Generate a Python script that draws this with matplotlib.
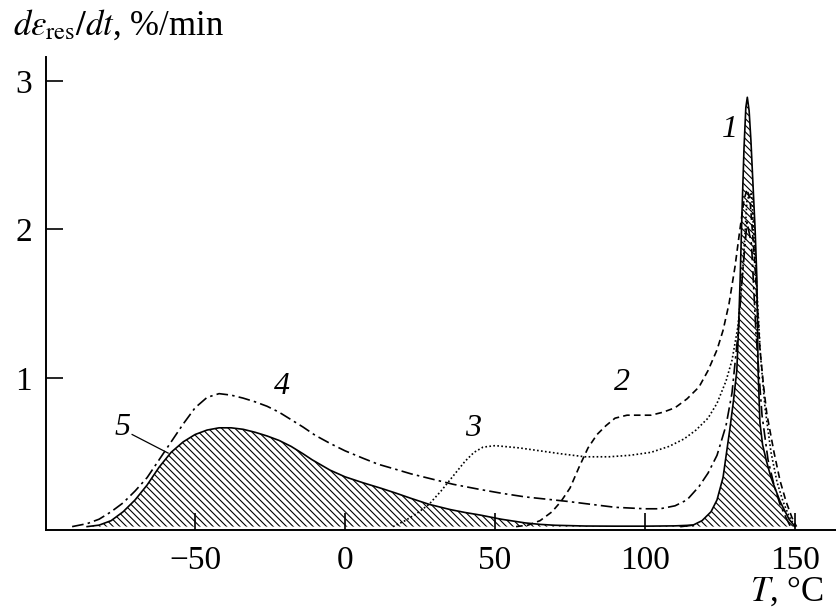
import matplotlib

matplotlib.use("Agg")
import matplotlib.pyplot as plt

plt.rcParams["font.family"] = ["Liberation Serif", "DejaVu Serif"]
plt.rcParams["mathtext.fontset"] = "stix"
plt.rcParams["hatch.linewidth"] = 0.8

# curve 1: narrow solid peak (hatched)
T1 = [112, 116, 119, 122, 124, 126, 128.3, 129.5, 130.6, 131.2, 131.7, 132.3, 133, 133.6, 134.1,
      134.7, 135.3, 136, 136.7, 137.3, 137.7, 138.3, 139.2, 140.5, 142, 143.5, 145, 146.5, 148, 149.2, 150]
v1 = [0, 0.01, 0.04, 0.1, 0.18, 0.33, 0.66, 0.85, 1.05, 1.35, 1.66, 2.1, 2.55, 2.82, 2.89,
      2.8, 2.6, 2.3, 2.0, 1.66, 1.05, 0.7, 0.55, 0.44, 0.33, 0.25, 0.17, 0.11, 0.05, 0.02, 0]

# curve 5: broad solid hump (hatched)
T5 = [-86, -82, -78, -74, -70, -66, -62, -58, -54, -50, -46, -42, -38, -34, -30, -26, -22, -18,
      -14, -11, -8, -5, 0, 6, 12, 17, 22, 28, 35, 40, 45, 52, 60, 65, 70, 80, 90, 100, 110, 116]
v5 = [0, 0.01, 0.04, 0.1, 0.18, 0.28, 0.4, 0.5, 0.57, 0.62, 0.65, 0.665, 0.665, 0.655, 0.635, 0.61,
      0.58, 0.54, 0.49, 0.45, 0.415, 0.38, 0.335, 0.295, 0.258, 0.225, 0.19, 0.15, 0.115, 0.095,
      0.078, 0.05, 0.025, 0.015, 0.009, 0.004, 0.003, 0.003, 0.005, 0.01]

# curve 2: dashed
T2 = [57, 61, 65, 69, 72, 75, 78, 81, 84, 87, 90, 94, 98, 102, 106, 110, 114, 118, 121, 124, 126,
      128, 130, 131.5, 133, 134, 135, 136.5, 138.3, 139.5, 140.6, 143, 145, 147, 149, 150.5]
v2 = [0, 0.01, 0.04, 0.1, 0.17, 0.26, 0.4, 0.53, 0.62, 0.68, 0.73, 0.75, 0.75, 0.75, 0.77, 0.8,
      0.86, 0.94, 1.05, 1.19, 1.32, 1.5, 1.75, 1.98, 2.2, 2.27, 2.2, 1.8, 1.2, 0.95, 0.76, 0.5,
      0.31, 0.17, 0.06, 0]

# curve 3: dotted
T3 = [16, 20, 24, 28, 32, 36, 40, 43, 46, 50, 58, 65, 72, 80, 88, 95, 102, 108, 113, 117, 121,
      124, 127, 129, 131, 132.5, 134, 135.5, 137, 138.5, 140, 142, 144, 146, 148, 150]
v3 = [0, 0.04, 0.09, 0.15, 0.24, 0.34, 0.44, 0.5, 0.535, 0.545, 0.53, 0.51, 0.49, 0.47, 0.47,
      0.48, 0.5, 0.54, 0.59, 0.65, 0.73, 0.83, 0.98, 1.12, 1.35, 1.7, 2.2, 2.25, 1.7, 1.15, 0.8,
      0.5, 0.3, 0.17, 0.07, 0]

# curve 4: dash-dot
T4 = [-91, -86, -82, -78, -74, -70, -66, -62, -58, -54, -50, -46, -42, -38, -34, -30, -26, -22,
      -18, -14, -10, -5, 0, 6, 11, 17, 22, 28, 36, 45, 52, 60, 74, 90, 100, 105, 110, 114, 118,
      121, 124, 127, 129, 131, 132.5, 134, 135.5, 137, 139, 141, 143, 145, 147, 148.5]
v4 = [0, 0.02, 0.05, 0.1, 0.16, 0.24, 0.33, 0.45, 0.57, 0.69, 0.8, 0.87, 0.895, 0.885, 0.865,
      0.84, 0.81, 0.77, 0.72, 0.67, 0.615, 0.56, 0.51, 0.46, 0.42, 0.385, 0.355, 0.325, 0.285,
      0.25, 0.225, 0.2, 0.17, 0.13, 0.12, 0.12, 0.14, 0.18, 0.27, 0.36, 0.48, 0.68, 0.9, 1.3,
      1.7, 2.05, 1.9, 1.3, 0.75, 0.45, 0.28, 0.15, 0.06, 0]

x_ticks = [-50, 0, 50, 100, 150]
y_ticks = [1, 2, 3]

fig = plt.figure(figsize=(8.37, 6.08), dpi=100)
ax = fig.add_axes([0.055, 0.128, 0.945, 0.778])

lw = 1.2
for T, v in [(T5, v5), (T1, v1)]:
    ax.fill_between(T, v, 0, facecolor="none", edgecolor="black", hatch="\\" * 5, linewidth=0)
    ax.plot(T, v, color="black", lw=lw, solid_joinstyle="round")
ax.plot(T2, v2, color="black", lw=lw, dashes=(4, 2.5))
ax.plot(T3, v3, color="black", lw=lw, dashes=(1, 1.4))
ax.plot(T4, v4, color="black", lw=lw, dashes=(7, 2.5, 1.5, 2.5))

# curve numbers
lab = dict(fontsize=23, style="italic", ha="center", va="center")
ax.text(128.3, 2.67, "1", **lab)
ax.text(92.3, 0.97, "2", **lab)
ax.text(42.7, 0.66, "3", **lab)
ax.text(-21, 0.94, "4", **lab)
ax.text(-74.3, 0.67, "5", **lab)
ax.plot([-71, -59], [0.62, 0.495], color="black", lw=0.9)

ax.set_xlim(-99.7, 164)
ax.set_ylim(-0.024, 3.16)
ax.set_xticks(x_ticks)
ax.set_yticks(y_ticks)
ax.tick_params(direction="in", length=12, width=1.2, labelsize=24)
ax.tick_params(axis="x", pad=11)
ax.tick_params(axis="y", pad=10)
for s in ["top", "right"]:
    ax.spines[s].set_visible(False)
for s in ["left", "bottom"]:
    ax.spines[s].set_linewidth(1.4)

fig.text(0.015, 0.943, r"$d\varepsilon_{\rm res}/dt$, %/min", fontsize=25, va="baseline")
fig.text(0.984, 0.012, r"$T$, °C", fontsize=25, ha="right", va="baseline")

fig.savefig("out.png", dpi=100)
